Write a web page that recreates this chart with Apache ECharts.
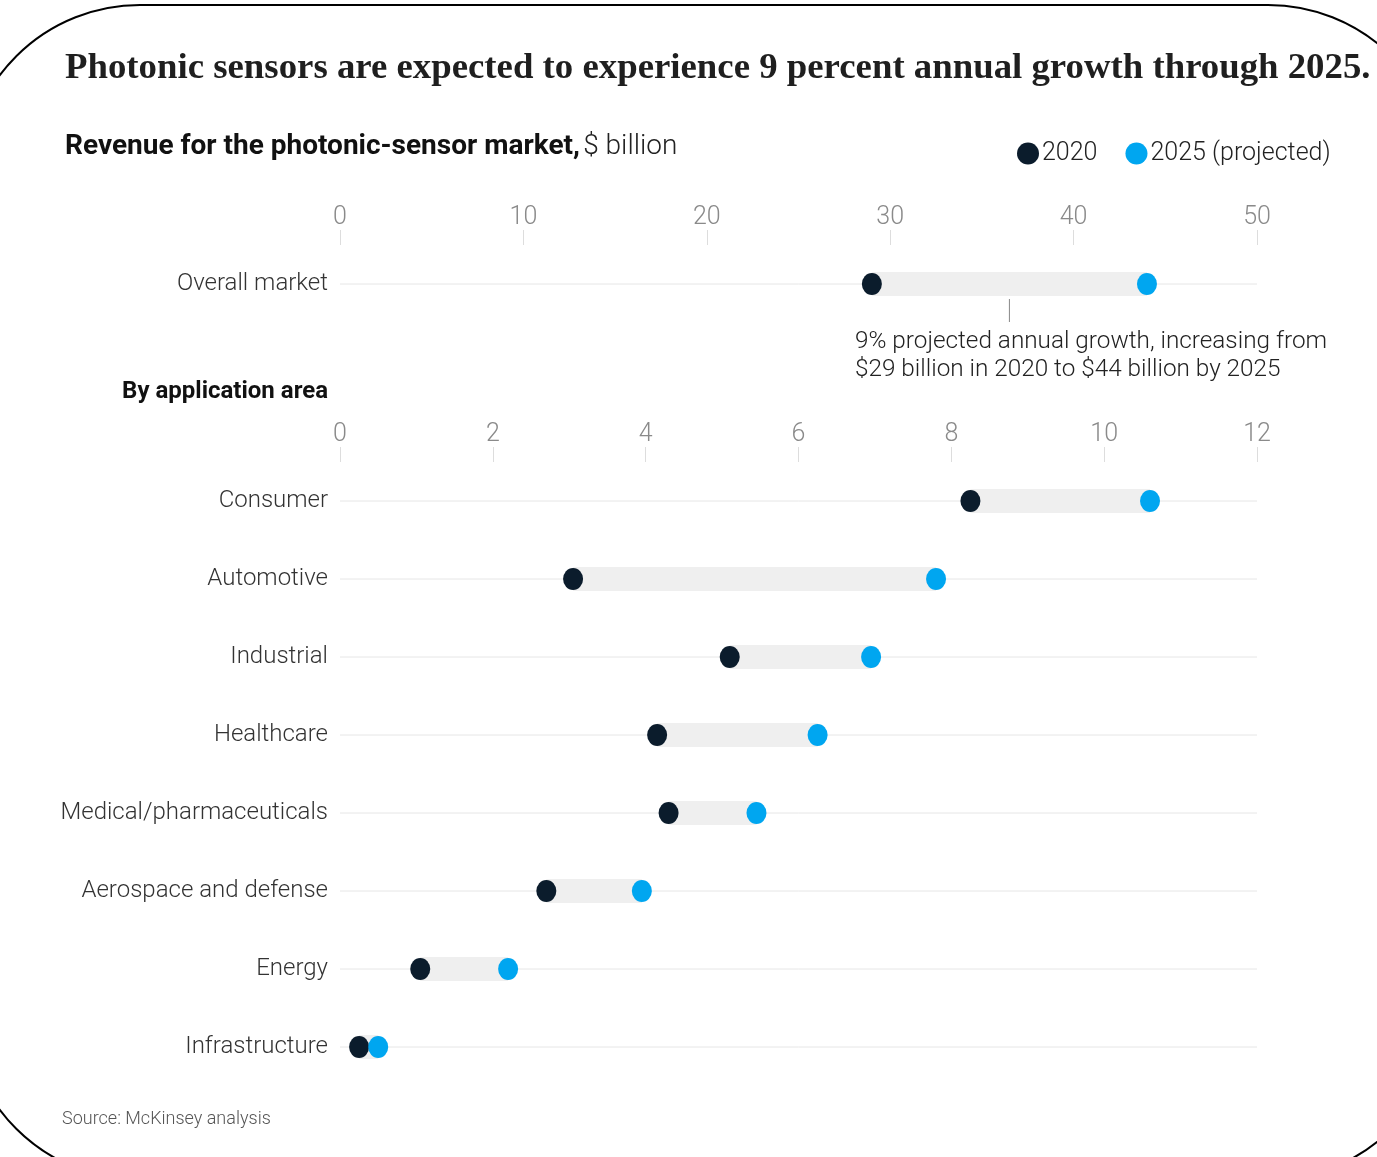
<!DOCTYPE html>
<html><head><meta charset="utf-8">
<script src="https://cdn.jsdelivr.net/npm/echarts@6/dist/echarts.min.js"></script>
<style>html,body{margin:0;padding:0;background:#fff}#c{width:1377px;height:1157px}</style>
</head><body><div id="c"></div>
<script>
const overallCategories = ['Overall market'];
const overall2020 = [29];
const overall2025 = [44];
const categories = ['Consumer','Automotive','Industrial','Healthcare','Medical/pharmaceuticals','Aerospace and defense','Energy','Infrastructure'];
const values2020 = [8.25, 3.05, 5.1, 4.15, 4.3, 2.7, 1.05, 0.25];
const values2025 = [10.6, 7.8, 6.95, 6.25, 5.45, 3.95, 2.2, 0.5];
const topAxis = {min: 0, max: 50, interval: 10};
const bottomAxis = {min: 0, max: 12, interval: 2};

const DARK = '#0b1c2c', BLUE = '#00a6f0', BAR = '#efefef', ROWLINE = '#e6e6e6';
const SANS = 'Roboto, "Open Sans", sans-serif';

const chart = echarts.init(document.getElementById('c'), null, {renderer: 'canvas'});

function renderRange(params, api) {
  const cat = api.value(0);
  const a = api.coord([api.value(1), cat]);
  const b = api.coord([api.value(2), cat]);
  const cs = params.coordSys;
  return {type: 'group', children: [
    {type: 'line', shape: {x1: cs.x, y1: a[1], x2: cs.x + cs.width, y2: a[1]}, style: {stroke: ROWLINE, lineWidth: 1}},
    {type: 'rect', shape: {x: a[0], y: a[1] - 12, width: b[0] - a[0], height: 24}, style: {fill: BAR}}
  ]};
}

function xAx(idx, r) {
  return {
    gridIndex: idx, type: 'value', position: 'top', min: r.min, max: r.max, interval: r.interval,
    axisLine: {show: false}, splitLine: {show: false},
    axisTick: {show: true, length: 15, lineStyle: {color: '#dddddd'}},
    axisLabel: {fontFamily: SANS, fontSize: 25, fontWeight: 300, color: '#8a8a8a', margin: 15}
  };
}
function yAx(idx, cats) {
  return {
    gridIndex: idx, type: 'category', data: cats, inverse: true,
    axisLine: {show: false}, axisTick: {show: false}, splitLine: {show: false},
    axisLabel: {fontFamily: SANS, fontSize: 24, fontWeight: 300, color: '#333', margin: 12}
  };
}

const option = {
  animation: false,
  backgroundColor: '#fff',
  grid: [
    {left: 340, right: 120, top: 245, height: 78},
    {left: 340, right: 120, top: 462, height: 624}
  ],
  xAxis: [xAx(0, topAxis), xAx(1, bottomAxis)],
  yAxis: [yAx(0, overallCategories), yAx(1, categories)],
  legend: {
    left: 1012, top: 136, icon: 'circle', itemWidth: 22, itemHeight: 22, itemGap: 28,
    textStyle: {fontFamily: SANS, fontSize: 25, fontWeight: 300, color: '#222', padding: [0,0,0,-2]},
    data: ['2020', '2025 (projected)']
  },
  series: [
    {type: 'custom', xAxisIndex: 0, yAxisIndex: 0, renderItem: renderRange, encode: {x: [1, 2], y: 0}, z: 1,
     data: overallCategories.map((c, i) => [i, overall2020[i], overall2025[i]])},
    {type: 'custom', xAxisIndex: 1, yAxisIndex: 1, renderItem: renderRange, encode: {x: [1, 2], y: 0}, z: 1,
     data: categories.map((c, i) => [i, values2020[i], values2025[i]])},
    {name: '2020', type: 'scatter', xAxisIndex: 0, yAxisIndex: 0, symbol: 'circle', symbolSize: [20, 22], z: 3,
     itemStyle: {color: DARK, opacity: 1}, data: overall2020.map((v, i) => [v, i])},
    {name: '2025 (projected)', type: 'scatter', xAxisIndex: 0, yAxisIndex: 0, symbol: 'circle', symbolSize: [20, 22], z: 4,
     itemStyle: {color: BLUE, opacity: 1}, data: overall2025.map((v, i) => [v, i])},
    {name: '2020', type: 'scatter', xAxisIndex: 1, yAxisIndex: 1, symbol: 'circle', symbolSize: [20, 22], z: 3,
     itemStyle: {color: DARK, opacity: 1}, data: values2020.map((v, i) => [v, i])},
    {name: '2025 (projected)', type: 'scatter', xAxisIndex: 1, yAxisIndex: 1, symbol: 'circle', symbolSize: [20, 22], z: 4,
     itemStyle: {color: BLUE, opacity: 1}, data: values2025.map((v, i) => [v, i])}
  ]
};
chart.setOption(option);

const mid = (overall2020[0] + overall2025[0]) / 2;
const midPt = chart.convertToPixel({xAxisIndex: 0, yAxisIndex: 0}, [mid, 0]);

chart.setOption({
  graphic: [
    {type: 'rect', shape: {x: -35, y: 5, width: 1478, height: 1175, r: 175}, style: {fill: null, stroke: '#000', lineWidth: 2}, z: 100, silent: true},
    {type: 'text', left: 65, top: 50, style: {text: 'Photonic sensors are expected to experience 9 percent annual growth through 2025.',
      font: 'bold 36.8px "Liberation Serif", "DejaVu Serif", serif', fill: '#1f1f1f'}},
    {type: 'text', left: 65, top: 133, style: {
      text: '{b|Revenue for the photonic-sensor market,} {r|$ billion}',
      rich: {b: {fontFamily: SANS, fontSize: 28, fontWeight: 'bold', fill: '#111'},
             r: {fontFamily: SANS, fontSize: 28, fontWeight: 300, fill: '#222'}}}},
    {type: 'text', right: 1377 - 328, top: 380, style: {text: 'By application area', font: 'bold 24px ' + SANS, fill: '#111', textAlign: 'right'}},
    {type: 'line', shape: {x1: midPt[0], y1: midPt[1] + 15, x2: midPt[0], y2: midPt[1] + 38}, style: {stroke: '#888', lineWidth: 1}},
    {type: 'text', left: 855, top: 328, style: {text: '9% projected annual growth, increasing from\n$29 billion in 2020 to $44 billion by 2025',
      font: '300 24.3px ' + SANS, fill: '#222', lineHeight: 28}},
    {type: 'text', left: 62, top: 1110, style: {text: 'Source: McKinsey analysis', font: '300 18px ' + SANS, fill: '#555'}}
  ]
});
</script></body></html>
